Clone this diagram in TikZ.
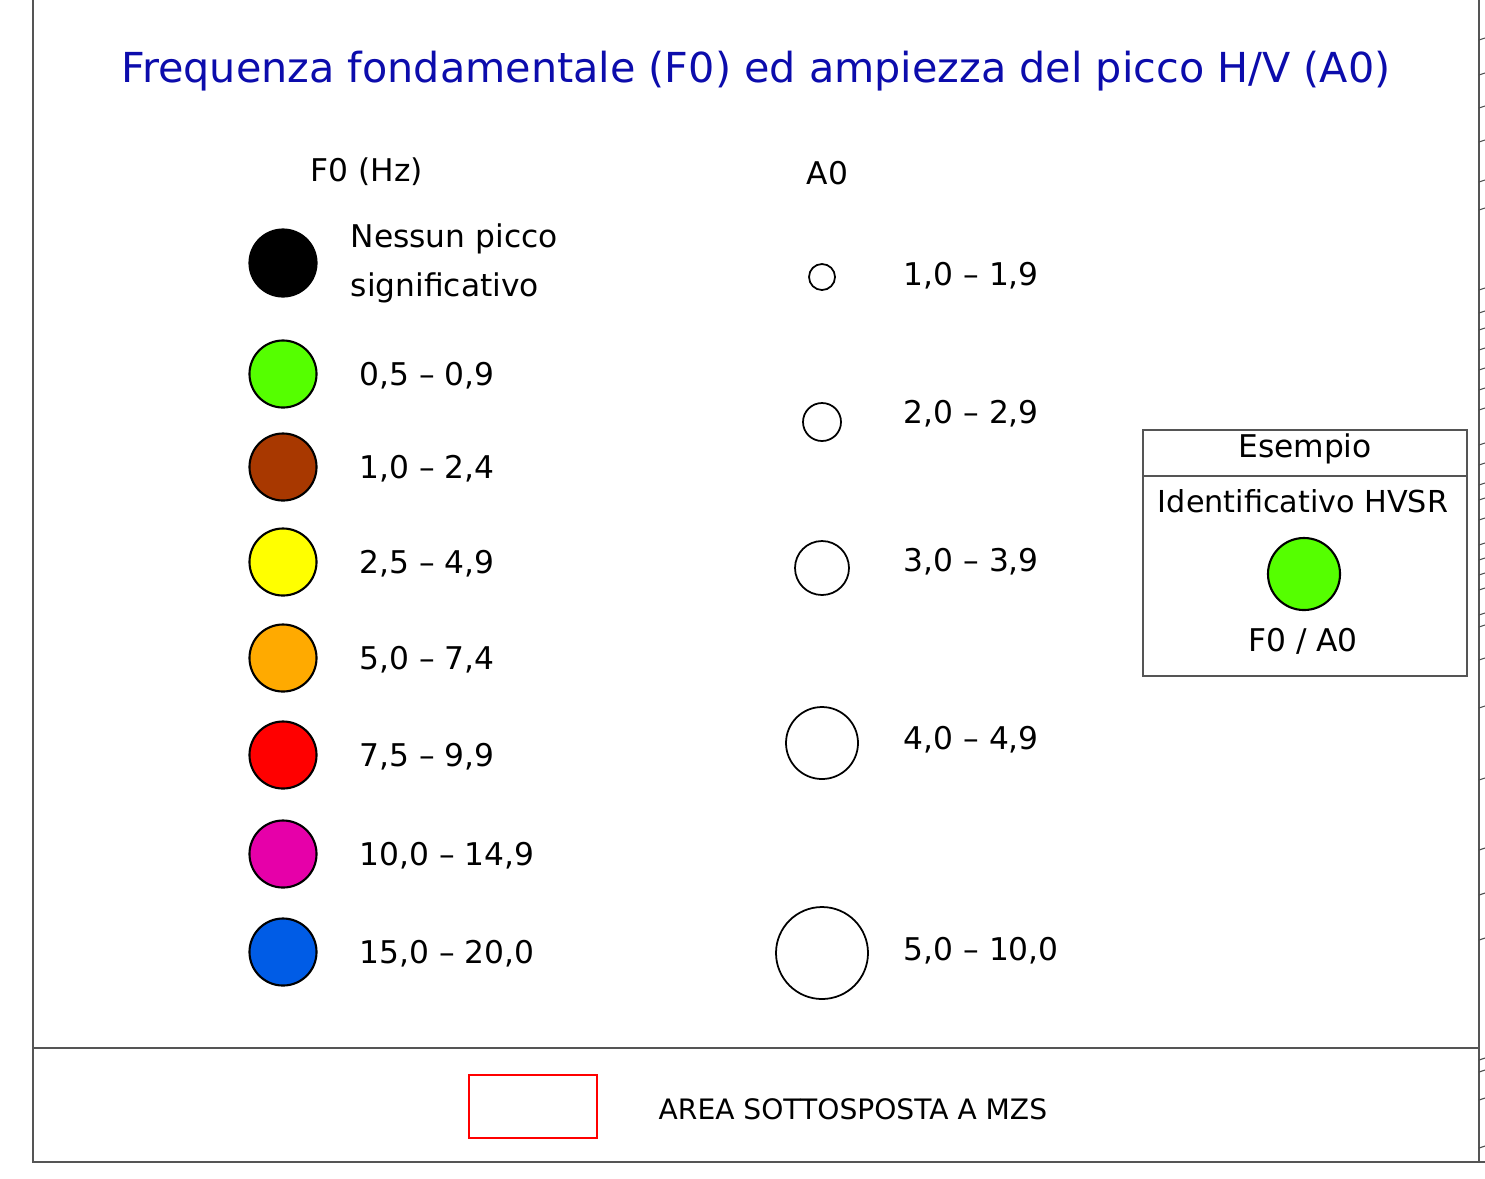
\documentclass[tikz,border=0pt]{standalone}
\usepackage{fontspec}
\setmainfont{DejaVu Sans}
\definecolor{titleblue}{RGB}{12,12,172}
\definecolor{framegray}{RGB}{85,85,85}
\definecolor{fgreen}{RGB}{85,255,0}
\definecolor{fbrown}{RGB}{168,56,0}
\definecolor{fyellow}{RGB}{255,255,0}
\definecolor{forange}{RGB}{255,170,0}
\definecolor{fred}{RGB}{255,0,0}
\definecolor{fmagenta}{RGB}{230,0,169}
\definecolor{fblue}{RGB}{0,92,230}
\tikzset{
  fdot/.style={circle,draw=black,line width=0.6pt,minimum size=0.67cm,inner sep=0pt},
  adot/.style={circle,draw=black,fill=white,line width=0.5pt,inner sep=0pt},
  lbl/.style={anchor=west,inner sep=0pt,font=\fontsize{8.9}{11}\selectfont},
  ctr/.style={inner sep=0pt,font=\fontsize{8.9}{11}\selectfont},
}
\begin{document}
\begin{tikzpicture}[x=0.01cm,y=-0.01cm,line cap=round]
  \useasboundingbox (0,0) rectangle (1485,1178);
  % frame
  \draw[framegray,line width=0.55pt] (33,0) -- (33,1162) -- (1485,1162);
  \draw[framegray,line width=0.45pt] (1479,0) -- (1479,1162);
  \draw[framegray,line width=0.45pt] (33,1048) -- (1479,1048);
  \foreach \y in {40,75,108,142,182,210,290,313,330,350,370,390,410,445,465,485,500,520,545,560,575,590,615,627,660,708,780,850,895,940,1060,1072,1100,1148}
    \draw[black!70,line width=0.3pt] (1479,\y) -- (1485,\y-2);
  % title
  \node[inner sep=0pt,text=titleblue,font=\fontsize{11.75}{14}\selectfont] (title) at (756,71)
    {Frequenza fondamentale (F0) ed ampiezza del picco H/V (A0)};
  % F0 column
  \node[lbl] (hf0) at (310,172) {F0 (Hz)};
  \node[fdot,fill=black] (f0) at (283,263) {};
  \node[lbl] (l0a) at (350,239) {Nessun picco};
  \node[lbl] (l0b) at (350,288) {significativo};
  \foreach \c/\yy/\t [count=\i] in {fgreen/374/{0,5 – 0,9},fbrown/467/{1,0 – 2,4},
      fyellow/562/{2,5 – 4,9},forange/658/{5,0 – 7,4},fred/755/{7,5 – 9,9},
      fmagenta/854/{10,0 – 14,9},fblue/952/{15,0 – 20,0}}{
    \node[fdot,fill=\c] (f\i) at (283,\yy) {};
    \node[lbl] (lf\i) at (359,\yy+2) {\t};
  }
  % A0 column
  \node[lbl] (ha0) at (806,173) {A0};
  \foreach \r/\yy/\ly/\t [count=\i] in {13/277/276/{1,0 – 1,9},19/422/414/{2,0 – 2,9},
      27/568/562/{3,0 – 3,9},36/743/740/{4,0 – 4,9},46/953/951/{5,0 – 10,0}}{
    \node[adot,minimum size=2*\r*0.01cm] (a\i) at (822,\yy) {};
    \node[lbl] (la\i) at (903,\ly) {\t};
  }
  % example box
  \draw[framegray,line width=0.4pt] (1143,430) rectangle (1467,676);
  \draw[framegray,line width=0.4pt] (1143,476) -- (1467,476);
  \node[ctr] (esempio) at (1305,449) {Esempio};
  \node[ctr,font=\fontsize{8.6}{11}\selectfont] (ident) at (1303,501) {Identificativo HVSR};
  \node[fdot,fill=fgreen,minimum size=0.72cm] (ex) at (1304,574) {};
  \node[ctr] (f0a0) at (1303,641) {F0 / A0};
  % bottom
  \node[draw=red,line width=0.45pt,minimum width=1.28cm,minimum height=0.63cm,inner sep=0pt] (mzs) at (533,1106.5) {};
  \node[lbl,font=\fontsize{8.0}{10}\selectfont] (lmzs) at (658,1109) {AREA SOTTOSPOSTA A MZS};
\end{tikzpicture}
\end{document}
